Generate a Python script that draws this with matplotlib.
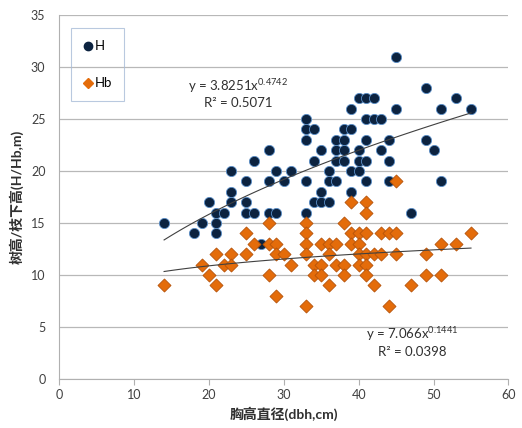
import numpy as np
import matplotlib
matplotlib.use("Agg")
import matplotlib.pyplot as plt
from matplotlib.lines import Line2D

plt.rcParams['font.family'] = ['Lato', 'Noto Sans CJK SC', 'DejaVu Sans']
plt.rcParams['mathtext.fontset'] = 'custom'
plt.rcParams['mathtext.rm'] = 'Lato'
plt.rcParams['mathtext.it'] = 'Lato'

# tree height H vs dbh
h_dbh = [14, 18, 19, 20, 21, 21, 21, 22, 23, 23, 23, 25, 25, 25, 26, 26, 27,
         28, 28, 28, 29, 29, 30, 31, 33, 33, 33, 33, 33, 34, 34, 34, 35, 35, 35,
         36, 36, 36, 37, 37, 37, 37, 38, 38, 38, 38, 39, 39, 39, 39,
         40, 40, 40, 40, 41, 41, 41, 41, 41, 42, 42, 43, 43, 44, 44, 44,
         45, 45, 47, 49, 49, 50, 51, 51, 53, 55]
h_val = [15, 14, 15, 17, 16, 15, 14, 16, 20, 18, 17, 19, 17, 16, 16, 21, 13,
         22, 19, 16, 20, 16, 19, 20, 25, 24, 23, 19, 16, 24, 21, 17, 22, 18, 17,
         20, 19, 17, 23, 22, 21, 19, 24, 23, 22, 21, 26, 24, 20, 18,
         27, 22, 21, 20, 27, 25, 23, 21, 19, 27, 25, 25, 22, 23, 21, 19,
         31, 26, 16, 28, 23, 22, 26, 19, 27, 26]

# height to crown base Hb vs dbh
hb_dbh = [14, 19, 20, 21, 21, 22, 23, 23, 25, 25, 26, 28, 28, 28, 29, 29, 29,
          30, 31, 33, 33, 33, 33, 33, 34, 34, 35, 35, 35, 36, 36, 36, 37, 37,
          38, 38, 38, 39, 39, 39, 40, 40, 40, 40, 41, 41, 41, 41, 41, 41,
          42, 42, 43, 43, 44, 44, 45, 45, 45, 47, 49, 49, 51, 51, 53, 55]
hb_val = [9, 11, 10, 12, 9, 11, 12, 11, 14, 12, 13, 15, 13, 10, 13, 12, 8,
          12, 11, 15, 14, 13, 12, 7, 11, 10, 13, 11, 10, 13, 12, 9, 13, 11,
          15, 11, 10, 17, 14, 13, 14, 13, 12, 11, 17, 16, 14, 12, 11, 10,
          12, 9, 14, 12, 14, 7, 19, 14, 12, 9, 12, 10, 13, 10, 13, 14]

# power trend lines as printed on the chart
h_coef = (3.8251, 0.4742)
hb_coef = (7.066, 0.1441)

fig = plt.figure(figsize=(5.22, 4.28), dpi=100)
ax = fig.add_axes([0.1136, 0.1145, 0.8604, 0.8505])

ax.scatter(h_dbh, h_val, s=54, marker='o', color='#0c2340',
           edgecolors='#5b8fc8', linewidths=0.6, zorder=3)
ax.scatter(hb_dbh, hb_val, s=44, marker='D', color='#e46c0a',
           edgecolors='#b5530a', linewidths=0.6, zorder=3)

xs = np.linspace(min(h_dbh), max(h_dbh), 100)
ax.plot(xs, h_coef[0] * xs ** h_coef[1], color='#404040', lw=0.8, zorder=4)
xs = np.linspace(min(hb_dbh), max(hb_dbh), 100)
ax.plot(xs, hb_coef[0] * xs ** hb_coef[1], color='#404040', lw=0.8, zorder=4)

ax.text(23.9, 28.2, r'y = 3.8251x$^{0.4742}$', ha='center', va='center',
        fontsize=9.5, color='#303030')
ax.text(23.9, 26.5, 'R² = 0.5071', ha='center', va='center',
        fontsize=9.5, color='#303030')
ax.text(47.1, 4.3, r'y = 7.066x$^{0.1441}$', ha='center', va='center',
        fontsize=9.5, color='#303030')
ax.text(47.1, 2.6, 'R² = 0.0398', ha='center', va='center',
        fontsize=9.5, color='#303030')

ax.set_xlim(0, 60)
ax.set_ylim(0, 35)
ax.set_xticks(range(0, 61, 10))
ax.set_yticks(range(0, 36, 5))
ax.yaxis.grid(True, color='#b8b8b8', lw=0.9)
ax.set_axisbelow(True)
for s in ['top', 'right']:
    ax.spines[s].set_visible(False)
for s in ['left', 'bottom']:
    ax.spines[s].set_color('#b0b0b0')
ax.tick_params(axis='x', colors='#b0b0b0', length=4, labelcolor='#404040', labelsize=9)
ax.tick_params(axis='y', length=0, labelcolor='#404040', labelsize=9, pad=10)

ax.set_xlabel('胸高直径(dbh,cm)', fontsize=10, fontweight='bold', color='#303030', labelpad=4)
ax.set_ylabel('树高/枝下高(H/Hb,m)', fontsize=10, fontweight='bold', color='#303030', labelpad=5)

handles = [Line2D([], [], ls='', marker='o', ms=6, color='#0c2340'),
           Line2D([], [], ls='', marker='D', ms=5, color='#e46c0a')]
leg = ax.legend(handles, ['H', 'Hb'], loc='upper left', bbox_to_anchor=(0.026, 0.963),
                borderaxespad=0, fontsize=9.5, labelspacing=1.9, borderpad=0.9,
                handletextpad=0.1, handlelength=0.8, fancybox=False,
                facecolor='none', framealpha=None)
leg.get_frame().set_edgecolor('#a8bcd8')
leg.get_frame().set_linewidth(0.8)

fig.savefig('out.png', dpi=100)
